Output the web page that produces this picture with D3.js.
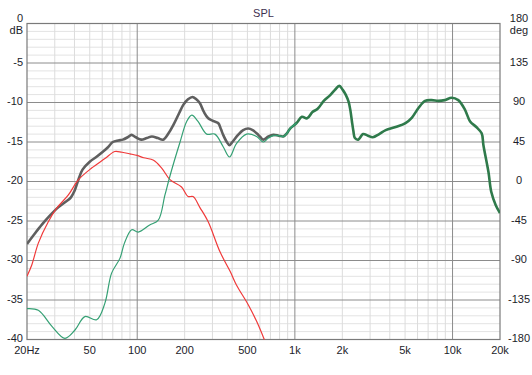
<!DOCTYPE html>
<html>
<head>
<meta charset="utf-8">
<script src="https://cdn.jsdelivr.net/npm/d3@7"></script>
<style>
	body { margin: 0; background: #fff; }
	svg { display: block; font-family: "Liberation Sans", Arial, sans-serif; }
</style>
</head>
<body>
<svg id="chart" width="532" height="375"></svg>
<script>
// summed response (gray, turns green where it follows the tweeter)
const totalFreq = [20, 22, 25, 28, 31, 35, 38, 40, 42.3, 45, 50, 55, 60, 65, 70, 76, 81, 87, 92, 98, 106, 115, 124, 135, 146, 158, 170, 185, 196, 210, 224, 237, 250, 265, 282, 300, 326, 340, 351, 370, 385, 405, 436, 470, 506, 540, 572, 600, 630, 680, 730, 790, 845, 890, 932, 1025, 1108, 1196, 1293, 1395, 1525, 1670, 1796, 1912, 2012, 2100, 2191, 2250, 2301, 2350, 2402, 2522, 2707, 2907, 3120, 3426, 3770, 4353, 5030, 5530, 6080, 6690, 7380, 8110, 8940, 9860, 10870, 11980, 12930, 14150, 15300, 15700, 16900, 17600, 18800, 20000];
const totalDb = [-27.9, -26.8, -25.4, -24.3, -23.4, -22.6, -22.0, -21.2, -19.8, -18.5, -17.5, -16.9, -16.3, -15.7, -15.0, -14.8, -14.7, -14.4, -14.1, -14.4, -14.7, -14.5, -14.3, -14.5, -14.7, -13.9, -12.8, -11.3, -10.3, -9.6, -9.3, -9.6, -10.1, -11.2, -12.0, -12.3, -12.6, -13.4, -14.1, -15.0, -15.4, -14.9, -14.1, -13.5, -13.3, -13.5, -13.9, -14.3, -14.7, -14.3, -14.1, -14.2, -14.3, -13.9, -13.3, -12.6, -11.8, -12.0, -11.2, -10.8, -9.8, -9.1, -8.4, -7.9, -8.4, -9.0, -9.9, -11.0, -12.4, -13.6, -14.5, -14.7, -14.0, -14.2, -14.4, -14.0, -13.5, -13.1, -12.6, -11.9, -10.7, -9.8, -9.7, -9.8, -9.7, -9.4, -9.7, -10.9, -12.4, -13.1, -13.9, -15.4, -18.8, -21.3, -23.0, -24.0];

// woofer (red)
const wooferFreq = [20, 21.5, 23.6, 27.3, 30.8, 36.6, 42.3, 51.4, 62.4, 72, 80, 90, 100, 110, 127, 143, 162, 191, 210, 226, 250, 282, 335, 389, 426, 506, 572, 640, 700];
const wooferDb = [-32.0, -30.5, -27.8, -25.1, -23.4, -21.7, -19.8, -18.3, -17.1, -16.2, -16.3, -16.5, -16.7, -17.0, -17.3, -18.3, -19.8, -20.7, -21.9, -21.9, -23.3, -25.1, -28.9, -31.4, -33.1, -35.6, -37.7, -40.0, -42.0];

// tweeter (green)
const tweeterFreq = [20, 23.6, 28.7, 34.8, 40.3, 46.6, 55.3, 62.4, 68.8, 77.8, 83, 92.3, 101.5, 120, 136, 150, 164, 187, 206, 222, 243, 276, 311, 351, 385, 426, 494, 572, 630, 680, 730, 790, 845, 890, 932, 1025];
const tweeterDb = [-36.1, -36.3, -38.3, -39.85, -38.8, -37.1, -37.5, -35.4, -31.6, -29.7, -27.8, -26.1, -26.4, -25.5, -24.9, -21.7, -18.8, -15.0, -12.4, -11.6, -12.4, -14.0, -14.0, -15.6, -16.9, -15.2, -14.0, -14.3, -15.0, -14.5, -14.2, -14.2, -14.3, -13.9, -13.3, -12.6];

const dbTicks = [0, -5, -10, -15, -20, -25, -30, -35, -40];
const degTicks = [180, 135, 90, 45, 0, -45, -90, -135, -180];
const freqTicks = [20, 50, 100, 200, 500, 1000, 2000, 5000, 10000, 20000];
const freqLabels = ["20Hz", "50", "100", "200", "500", "1k", "2k", "5k", "10k", "20k"];

const svg = d3.select("#chart");
const plotL = 27, plotR = 500, plotT = 23.5, plotB = 339.5;

const x = d3.scaleLog().domain([20, 20000]).range([plotL, plotR]);
const y = d3.scaleLinear().domain([-40, 0]).range([plotB, plotT]);
const yDeg = d3.scaleLinear().domain([-180, 180]).range([plotB, plotT]);

// grid
let minorF = [];
[10, 100, 1000].forEach((dec) => {
	for (let k = 2; k <= 9; k++) {
		let f = dec * k;
		if (f > 20 && f < 20000) minorF.push(f);
	}
});
let minorDb = d3.range(-39, 0).filter((d) => d % 5 !== 0);

const grid = svg.append("g");
grid.append("g").selectAll("line")
	.data(minorDb)
	.join("line")
	.attr("x1", plotL).attr("x2", plotR)
	.attr("y1", (d) => y(d)).attr("y2", (d) => y(d))
	.attr("stroke", "#e3e3e3").attr("stroke-width", 1);
grid.append("g").selectAll("line")
	.data(minorF)
	.join("line")
	.attr("x1", (d) => x(d)).attr("x2", (d) => x(d))
	.attr("y1", plotT).attr("y2", plotB)
	.attr("stroke", "#dcdcdc").attr("stroke-width", 1);
grid.append("g").selectAll("line")
	.data(dbTicks.slice(1, -1))
	.join("line")
	.attr("x1", plotL).attr("x2", plotR)
	.attr("y1", (d) => y(d)).attr("y2", (d) => y(d))
	.attr("stroke", "#8c8c8c").attr("stroke-width", 1);
grid.append("g").selectAll("line")
	.data([100, 1000, 10000])
	.join("line")
	.attr("x1", (d) => x(d)).attr("x2", (d) => x(d))
	.attr("y1", plotT).attr("y2", plotB)
	.attr("stroke", "#8c8c8c").attr("stroke-width", 1);
svg.append("rect")
	.attr("x", plotL).attr("y", plotT)
	.attr("width", plotR - plotL).attr("height", plotB - plotT)
	.attr("fill", "none").attr("stroke", "#7a7a7a").attr("stroke-width", 1.2);

// curves
const defs = svg.append("defs");
defs.append("clipPath").attr("id", "clip")
	.append("rect")
	.attr("x", plotL).attr("y", plotT - 2)
	.attr("width", plotR - plotL).attr("height", plotB - plotT + 2);

let grad = defs.append("linearGradient")
	.attr("id", "totalGrad")
	.attr("gradientUnits", "userSpaceOnUse")
	.attr("x1", x(650)).attr("x2", x(950))
	.attr("y1", 0).attr("y2", 0);
grad.append("stop").attr("offset", 0).attr("stop-color", "#5f5f5f");
grad.append("stop").attr("offset", 1).attr("stop-color", "#2f7a4b");

const line = d3.line()
	.x((d) => x(d[0]))
	.y((d) => y(d[1]))
	.curve(d3.curveCatmullRom);

const curves = svg.append("g").attr("clip-path", "url(#clip)");
curves.append("path")
	.datum(d3.zip(totalFreq, totalDb))
	.attr("d", line)
	.attr("fill", "none")
	.attr("stroke", "url(#totalGrad)")
	.attr("stroke-width", 2.6)
	.attr("stroke-linejoin", "round");
curves.append("path")
	.datum(d3.zip(wooferFreq, wooferDb))
	.attr("d", line)
	.attr("fill", "none")
	.attr("stroke", "#f03a3a")
	.attr("stroke-width", 1.2);
curves.append("path")
	.datum(d3.zip(tweeterFreq, tweeterDb))
	.attr("d", line)
	.attr("fill", "none")
	.attr("stroke", "#35a074")
	.attr("stroke-width", 1.2);

// labels
const txt = "#1c1c2a";
svg.append("text")
	.attr("x", (plotL + plotR) / 2).attr("y", 16.5)
	.attr("text-anchor", "middle")
	.attr("font-size", 11).attr("fill", "#3e3050")
	.text("SPL");

// top tick label sits above its unit
svg.append("g").selectAll("text")
	.data(dbTicks)
	.join("text")
	.attr("x", 23)
	.attr("y", (d) => (d === 0 ? 17.5 : y(d) - 1.5))
	.attr("text-anchor", "end")
	.attr("dominant-baseline", "central")
	.attr("font-size", 11).attr("fill", txt)
	.text((d) => d);
svg.append("text")
	.attr("x", 23).attr("y", 30)
	.attr("text-anchor", "end").attr("dominant-baseline", "central")
	.attr("font-size", 11).attr("fill", txt)
	.text("dB");

svg.append("g").selectAll("text")
	.data(degTicks)
	.join("text")
	.attr("x", 519)
	.attr("y", (d) => (d === 180 ? 17.5 : yDeg(d) - 1.5))
	.attr("text-anchor", "middle")
	.attr("dominant-baseline", "central")
	.attr("font-size", 11).attr("fill", txt)
	.text((d) => d);
svg.append("text")
	.attr("x", 519).attr("y", 30)
	.attr("text-anchor", "middle").attr("dominant-baseline", "central")
	.attr("font-size", 11).attr("fill", txt)
	.text("deg");

svg.append("g").selectAll("text")
	.data(freqTicks)
	.join("text")
	.attr("x", (d) => x(d))
	.attr("y", 349.5)
	.attr("text-anchor", "middle")
	.attr("dominant-baseline", "central")
	.attr("font-size", 11).attr("fill", txt)
	.text((d, i) => freqLabels[i]);
</script>
</body>
</html>
